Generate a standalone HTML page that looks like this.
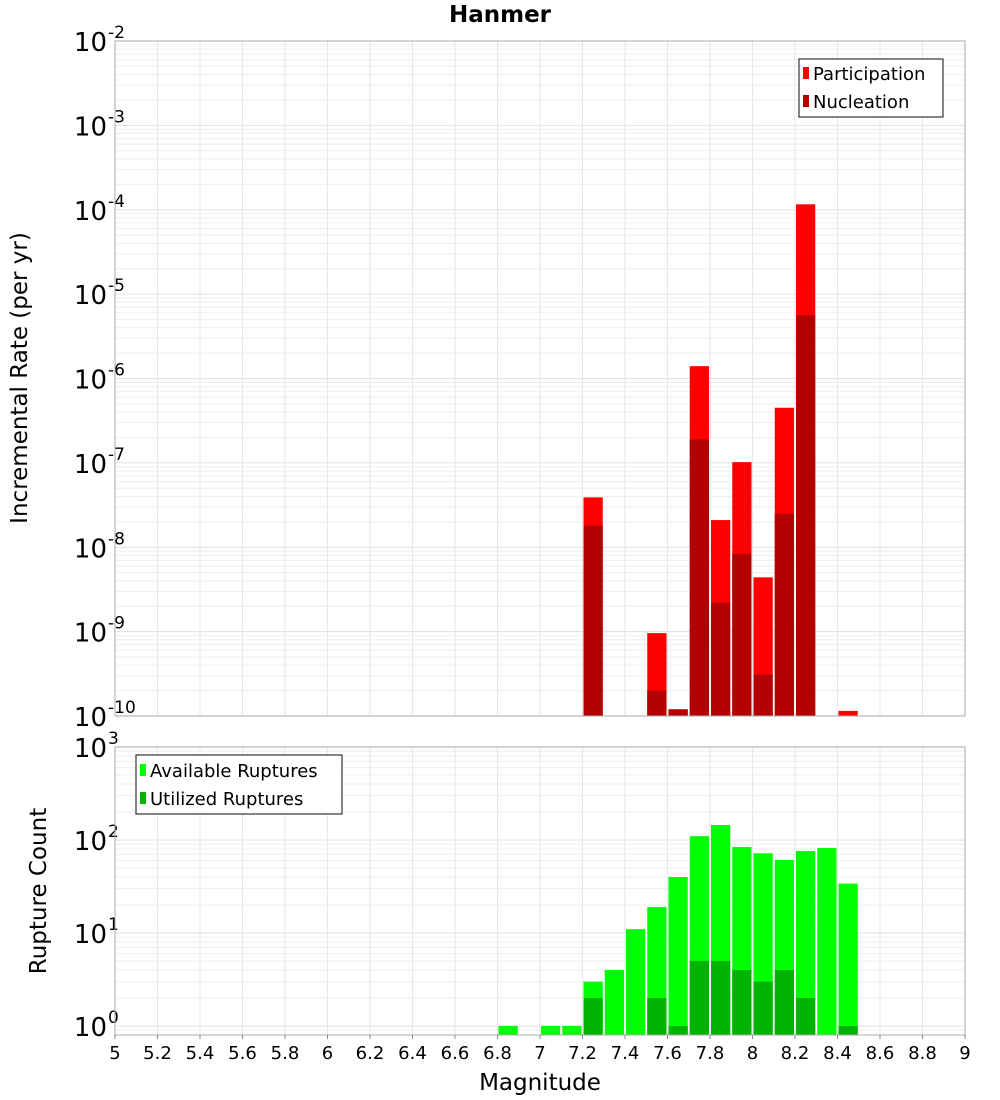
<!DOCTYPE html>
<html><head><meta charset="utf-8"><style>
body{margin:0;background:#fff;}
svg{display:block;font-family:"DejaVu Sans","Liberation Sans",sans-serif;}
</style></head><body>
<svg id="chart" width="1000" height="1100" viewBox="0 0 1000 1100" xmlns="http://www.w3.org/2000/svg">
<text x="500" y="22" text-anchor="middle" font-size="23" font-weight="bold">Hanmer</text>
<g id="gtop"></g>
<g id="gbot"></g>
<text transform="translate(27,378) rotate(-90)" text-anchor="middle" font-size="23">Incremental Rate (per yr)</text>
<text transform="translate(46,891) rotate(-90)" text-anchor="middle" font-size="23">Rupture Count</text>
<text x="540" y="1090" text-anchor="middle" font-size="23">Magnitude</text>
<g>
<rect x="799" y="59" width="144" height="58" fill="#fff" stroke="#333" stroke-width="1.2"/>
<rect x="803" y="67" width="6" height="12" fill="#ff0000"/>
<text x="813" y="80" font-size="18">Participation</text>
<rect x="803" y="95" width="6" height="12" fill="#b30000"/>
<text x="813" y="108" font-size="18">Nucleation</text>
</g>
<g>
<rect x="136" y="755" width="206" height="59" fill="#fff" stroke="#333" stroke-width="1.2"/>
<rect x="140" y="764" width="6" height="12" fill="#00ff00"/>
<text x="150" y="777" font-size="18">Available Ruptures</text>
<rect x="140" y="792" width="6" height="12" fill="#00b300"/>
<text x="150" y="805" font-size="18">Utilized Ruptures</text>
</g>
</svg>
<script>
const rateMags=[7.25,7.55,7.65,7.75,7.85,7.95,8.05,8.15,8.25,8.45];
const participation=[3.9e-8,9.6e-10,1.2e-10,1.4e-6,2.1e-8,1.02e-7,4.4e-9,4.5e-7,1.16e-4,1.15e-10];
const nucleation=[1.8e-8,2.0e-10,1.2e-10,1.9e-7,2.2e-9,8.3e-9,3.1e-10,2.5e-8,5.6e-6,0];
const countMags=[6.85,7.05,7.15,7.25,7.35,7.45,7.55,7.65,7.75,7.85,7.95,8.05,8.15,8.25,8.35,8.45];
const available=[1,1,1,3,4,11,19,40,110,145,84,72,61,76,82,34];
const utilized=[0,0,0,2,0,0,2,1,5,5,4,3,4,2,0,1];
const xTicks=["5","5.2","5.4","5.6","5.8","6","6.2","6.4","6.6","6.8","7","7.2","7.4","7.6","7.8","8","8.2","8.4","8.6","8.8","9"];
const rateExp=[-2,-3,-4,-5,-6,-7,-8,-9,-10];
const countExp=[3,2,1,0];

const NS="http://www.w3.org/2000/svg";
const X0=115,X1=965;
const xs=m=>X0+(m-5)/4*(X1-X0);
const yTop=v=>716-(Math.log10(v)+10)*(675/8);
const yBot=v=>1026-Math.log10(v)*93;
function el(tag,attrs,parent){const e=document.createElementNS(NS,tag);for(const k in attrs)e.setAttribute(k,attrs[k]);parent.appendChild(e);return e;}

function panel(g,yT,yB,yfn,expLo,expHi,exps){
  el('rect',{x:X0,y:yT,width:X1-X0,height:yB-yT,fill:'#fff'},g);
  for(let e=expLo;e<expHi;e++)for(let k=1;k<10;k++){
    const y=yfn(k*Math.pow(10,e));
    if(y<yT||y>yB)continue;
    el('line',{x1:X0,x2:X1,y1:y,y2:y,stroke:k===1?'#e0e0e0':'#eeeeee','stroke-width':1},g);
  }
  xTicks.forEach(t=>{const x=xs(parseFloat(t));el('line',{x1:x,x2:x,y1:yT,y2:yB,stroke:'#e6e6e6','stroke-width':1},g);});
  exps.forEach(e=>{
    const y=yfn(Math.pow(10,e));
    const t=el('text',{x:107,y:y+10,'text-anchor':'end','font-size':26},g);
    t.textContent='10';
    
    
    const s=el('text',{x:108,y:y-3,'font-size':17},g);
    s.textContent=String(e);
  });
}
const gTop=document.getElementById('gtop'),gBot=document.getElementById('gbot');
panel(gTop,41,716,yTop,-10,-2,rateExp);
panel(gBot,747,1035,yBot,-1,3,countExp);

const bw=(X1-X0)/40;
function bar(g,m,v,yfn,base,color,name){
  if(!(v>0))return;
  const y=yfn(v);
  const r=el('rect',{x:xs(m)-bw/2+1,y:y,width:bw-2,height:base-y,fill:color},g);
  
  
}
rateMags.forEach((m,i)=>{bar(gTop,m,participation[i],yTop,716,'#ff0000','bar-participation');bar(gTop,m,nucleation[i],yTop,716,'#b30000','bar-nucleation');});
countMags.forEach((m,i)=>{bar(gBot,m,available[i],yBot,1035,'#00ff00','bar-available');bar(gBot,m,utilized[i],yBot,1035,'#00b300','bar-utilized');});

el('rect',{x:X0,y:41,width:X1-X0,height:675,fill:'none',stroke:'#aaa','stroke-width':1},gTop);
el('rect',{x:X0,y:747,width:X1-X0,height:288,fill:'none',stroke:'#aaa','stroke-width':1},gBot);
xTicks.forEach(t=>{
  const x=xs(parseFloat(t));
  el('line',{x1:x,x2:x,y1:1035,y2:1039,stroke:'#888'},gBot);
  const tx=el('text',{x:x,y:1059,'text-anchor':'middle','font-size':18},gBot);
  tx.textContent=t;
  
  
});
</script>
</body></html>
